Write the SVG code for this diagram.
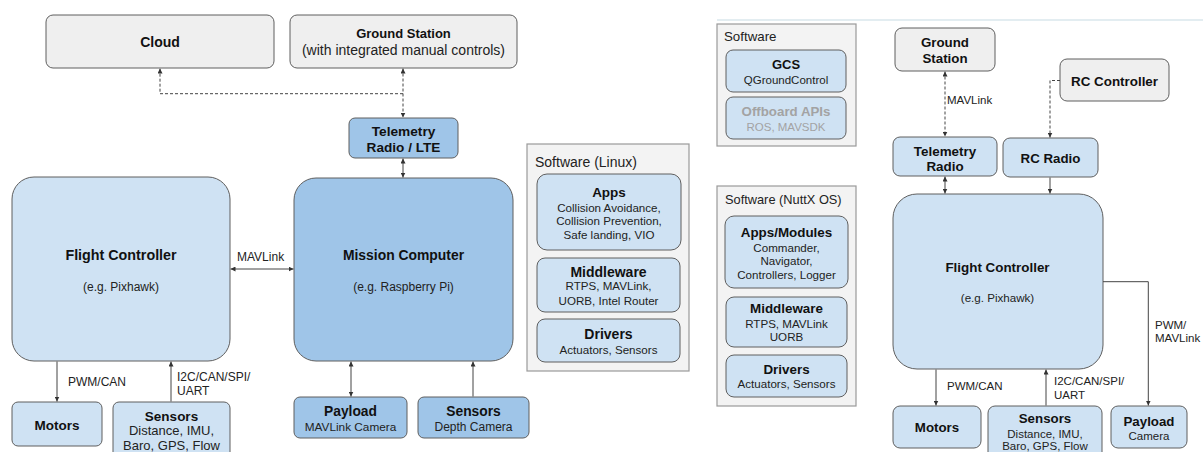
<svg xmlns="http://www.w3.org/2000/svg" width="1203" height="452" viewBox="0 0 1203 452">
  <defs>
    <marker id="ah" viewBox="0 0 5 5" refX="5" refY="2.5" markerWidth="5" markerHeight="5" markerUnits="userSpaceOnUse" orient="auto-start-reverse">
      <path d="M0,0 L5,2.5 L0,5 z" fill="#333"/>
    </marker>
    <style>
      .gray{fill:#efefef;stroke:#5f5f5f;stroke-width:1}
      .lb{fill:#cfe2f3;stroke:#5f5f5f;stroke-width:1}
      .db{fill:#9fc5e8;stroke:#5f5f5f;stroke-width:1}
      .sw{fill:#f3f3f3;stroke:#9a9a9a;stroke-width:1.2}
      .ln{fill:none;stroke:#444;stroke-width:1}
      .dash{stroke-dasharray:3 2}
      .sep{stroke:#c8dbe4;stroke-width:1.2}
      text{font-family:"Liberation Sans",Arial,sans-serif;fill:#222}
      .c{text-anchor:middle}
      .b{font-weight:bold;fill:#111}
      .dim{fill:#a3a3a3}
    </style>
  </defs>

  <!-- ===== Left: companion-computer architecture ===== -->
  <g id="cloud">
    <rect class="gray" x="46" y="15" width="228" height="53" rx="7"/>
    <text class="c b" x="160" y="46.5" font-size="14">Cloud</text>
  </g>
  <g id="ground-station">
    <rect class="gray" x="290" y="15" width="227" height="53" rx="7"/>
    <text class="c b" x="403.5" y="38.2" font-size="13">Ground Station</text>
    <text class="c" x="403.5" y="55" font-size="14">(with integrated manual controls)</text>
  </g>
  <g id="telemetry-lte">
    <rect class="db" x="349" y="118" width="109" height="40" rx="6"/>
    <text class="c b" x="403.5" y="136" font-size="13.7">Telemetry</text>
    <text class="c b" x="403.5" y="152" font-size="13.6">Radio / LTE</text>
  </g>
  <g id="flight-controller-a">
    <rect class="lb" x="12" y="177" width="218" height="184" rx="22"/>
    <text class="c b" x="121" y="260" font-size="14.3">Flight Controller</text>
    <text class="c" x="121" y="291" font-size="12">(e.g. Pixhawk)</text>
  </g>
  <g id="mission-computer">
    <rect class="db" x="294" y="178" width="219" height="183" rx="22"/>
    <text class="c b" x="403.5" y="260" font-size="13.9">Mission Computer</text>
    <text class="c" x="403.5" y="291" font-size="12">(e.g. Raspberry Pi)</text>
  </g>
  <g id="motors-a">
    <rect class="lb" x="12" y="402" width="90" height="44" rx="6"/>
    <text class="c b" x="57" y="430" font-size="13.5">Motors</text>
  </g>
  <g id="sensors-a">
    <rect class="lb" x="113" y="402" width="117" height="60" rx="6"/>
    <text class="c b" x="171.5" y="420.5" font-size="13.5">Sensors</text>
    <text class="c" x="171.5" y="435.3" font-size="13">Distance, IMU,</text>
    <text class="c" x="171.5" y="449.6" font-size="13">Baro, GPS, Flow</text>
  </g>
  <g id="payload-a">
    <rect class="db" x="294" y="397" width="113" height="41" rx="6"/>
    <text class="c b" x="350.5" y="415.5" font-size="13.8">Payload</text>
    <text class="c" x="350.5" y="431.3" font-size="11.8">MAVLink Camera</text>
  </g>
  <g id="sensors-depth">
    <rect class="db" x="418" y="397" width="111" height="41" rx="6"/>
    <text class="c b" x="473.5" y="415.5" font-size="13.8">Sensors</text>
    <text class="c" x="473.5" y="431.3" font-size="12">Depth Camera</text>
  </g>

  <!-- Linux software stack -->
  <g id="software-linux">
    <rect class="sw" x="527" y="144" width="162" height="227"/>
    <text x="535" y="166.7" font-size="14">Software (Linux)</text>
  </g>
  <g id="linux-apps">
    <rect class="lb" x="537" y="174" width="144" height="76" rx="10"/>
    <text class="c b" x="609" y="196.5" font-size="13.5">Apps</text>
    <text class="c" x="609" y="211.5" font-size="11.6">Collision Avoidance,</text>
    <text class="c" x="609" y="225" font-size="11.6">Collision Prevention,</text>
    <text class="c" x="609" y="239.2" font-size="11.6">Safe landing, VIO</text>
  </g>
  <g id="linux-middleware">
    <rect class="lb" x="537" y="258" width="143" height="54" rx="8"/>
    <text class="c b" x="608.5" y="276.7" font-size="14">Middleware</text>
    <text class="c" x="608.5" y="290.2" font-size="11.6">RTPS, MAVLink,</text>
    <text class="c" x="608.5" y="305" font-size="11.6">UORB, Intel Router</text>
  </g>
  <g id="linux-drivers">
    <rect class="lb" x="537" y="319" width="143" height="43" rx="8"/>
    <text class="c b" x="608.5" y="339" font-size="14">Drivers</text>
    <text class="c" x="608.5" y="353.5" font-size="11.6">Actuators, Sensors</text>
  </g>

  <!-- ===== Right: flight-controller-only architecture ===== -->
  <line class="sep" x1="717" y1="20" x2="1203" y2="20"/>

  <g id="software-gcs">
    <rect class="sw" x="717" y="24" width="139" height="122"/>
    <text x="724" y="40.7" font-size="13.3">Software</text>
  </g>
  <g id="gcs">
    <rect class="lb" x="726" y="50" width="120" height="42" rx="7"/>
    <text class="c b" x="786" y="68.7" font-size="13">GCS</text>
    <text class="c" x="786" y="83.5" font-size="11.5">QGroundControl</text>
  </g>
  <g id="offboard-apis">
    <rect class="lb" x="726" y="97" width="120" height="42" rx="7"/>
    <text class="c b dim" x="786" y="116.4" font-size="13.3">Offboard APIs</text>
    <text class="c dim" x="786" y="131" font-size="11.5">ROS, MAVSDK</text>
  </g>

  <g id="software-nuttx">
    <rect class="sw" x="717" y="186" width="139" height="220"/>
    <text x="725" y="204" font-size="12.8">Software (NuttX OS)</text>
  </g>
  <g id="nuttx-apps">
    <rect class="lb" x="725" y="216" width="123" height="72" rx="9"/>
    <text class="c b" x="786.5" y="237" font-size="13.4">Apps/Modules</text>
    <text class="c" x="786.5" y="251.5" font-size="11.6">Commander,</text>
    <text class="c" x="786.5" y="264.9" font-size="11.6">Navigator,</text>
    <text class="c" x="786.5" y="278.9" font-size="11.6">Controllers, Logger</text>
  </g>
  <g id="nuttx-middleware">
    <rect class="lb" x="726" y="297" width="121" height="50" rx="8"/>
    <text class="c b" x="786.5" y="313" font-size="13.4">Middleware</text>
    <text class="c" x="786.5" y="327.5" font-size="11.6">RTPS, MAVLink</text>
    <text class="c" x="786.5" y="341" font-size="11.6">UORB</text>
  </g>
  <g id="nuttx-drivers">
    <rect class="lb" x="726" y="355" width="121" height="42" rx="8"/>
    <text class="c b" x="786.5" y="374" font-size="13.4">Drivers</text>
    <text class="c" x="786.5" y="388.2" font-size="11.6">Actuators, Sensors</text>
  </g>

  <g id="ground-station-b">
    <rect class="gray" x="895" y="28" width="100" height="43" rx="7"/>
    <text class="c b" x="945" y="46.5" font-size="13.3">Ground</text>
    <text class="c b" x="945" y="62.5" font-size="13.3">Station</text>
  </g>
  <g id="rc-controller">
    <rect class="gray" x="1060" y="59" width="109" height="42" rx="7"/>
    <text class="c b" x="1114.5" y="85.5" font-size="13.4">RC Controller</text>
  </g>
  <g id="telemetry-radio">
    <rect class="lb" x="893" y="137" width="104" height="39" rx="7"/>
    <text class="c b" x="945" y="155.5" font-size="13.4">Telemetry</text>
    <text class="c b" x="945" y="170.5" font-size="13.4">Radio</text>
  </g>
  <g id="rc-radio">
    <rect class="lb" x="1003" y="138" width="95" height="39" rx="7"/>
    <text class="c b" x="1050.5" y="162.8" font-size="13.3">RC Radio</text>
  </g>
  <g id="flight-controller-b">
    <rect class="lb" x="893" y="194" width="210" height="175" rx="24"/>
    <text class="c b" x="997.5" y="272" font-size="13.4">Flight Controller</text>
    <text class="c" x="997.5" y="302" font-size="11.6">(e.g. Pixhawk)</text>
  </g>
  <g id="motors-b">
    <rect class="lb" x="893" y="406" width="88" height="42" rx="7"/>
    <text class="c b" x="937" y="432" font-size="13.3">Motors</text>
  </g>
  <g id="sensors-b">
    <rect class="lb" x="988" y="406" width="114" height="56" rx="7"/>
    <text class="c b" x="1045" y="423" font-size="13.3">Sensors</text>
    <text class="c" x="1045" y="437.5" font-size="11.5">Distance, IMU,</text>
    <text class="c" x="1045" y="450.2" font-size="11.5">Baro, GPS, Flow</text>
  </g>
  <g id="payload-b">
    <rect class="lb" x="1111" y="406" width="76" height="42" rx="7"/>
    <text class="c b" x="1149" y="425.5" font-size="13.3">Payload</text>
    <text class="c" x="1149" y="440" font-size="11.5">Camera</text>
  </g>

  <!-- ===== Connectors ===== -->
  <g id="connectors">
    <!-- left diagram -->
    <path class="ln dash" d="M403,93.7 H160 V68.5" marker-end="url(#ah)"/>
    <path class="ln dash" d="M403,68.5 V117.5" marker-start="url(#ah)" marker-end="url(#ah)"/>
    <path class="ln" d="M403,158.5 V177.5" marker-start="url(#ah)" marker-end="url(#ah)"/>
    <path class="ln" d="M230.5,269 H293.5" marker-start="url(#ah)" marker-end="url(#ah)"/>
    <text x="237" y="261" font-size="12">MAVLink</text>
    <path class="ln" d="M57,361.5 V401.5" marker-end="url(#ah)"/>
    <text x="68" y="386" font-size="12">PWM/CAN</text>
    <path class="ln" d="M171,401.5 V361.5" marker-end="url(#ah)"/>
    <text x="177" y="381" font-size="12">I2C/CAN/SPI/</text>
    <text x="177" y="394.5" font-size="12">UART</text>
    <path class="ln" d="M351,361.5 V396.5" marker-start="url(#ah)" marker-end="url(#ah)"/>
    <path class="ln" d="M473,396.5 V361.5" marker-end="url(#ah)"/>

    <!-- right diagram -->
    <path class="ln dash" d="M945,71.5 V136.5" marker-start="url(#ah)" marker-end="url(#ah)"/>
    <text x="947" y="104" font-size="11.5">MAVLink</text>
    <path class="ln dash" d="M1060,80.5 H1050 V137.5" marker-end="url(#ah)"/>
    <path class="ln" d="M945,176.5 V193.5" marker-start="url(#ah)" marker-end="url(#ah)"/>
    <path class="ln" d="M1050,177.5 V193.5" marker-end="url(#ah)"/>
    <path class="ln" d="M936,369.5 V405.5" marker-end="url(#ah)"/>
    <text x="947" y="390" font-size="11.5">PWM/CAN</text>
    <path class="ln" d="M1046,405.5 V369.5" marker-end="url(#ah)"/>
    <text x="1054" y="385" font-size="11.5">I2C/CAN/SPI/</text>
    <text x="1054" y="398.5" font-size="11.5">UART</text>
    <path class="ln" d="M1103,281.7 H1148.3 V405.5" marker-end="url(#ah)"/>
    <text x="1155" y="328.5" font-size="11.5">PWM/</text>
    <text x="1155" y="342" font-size="11.5">MAVLink</text>
  </g>
</svg>
